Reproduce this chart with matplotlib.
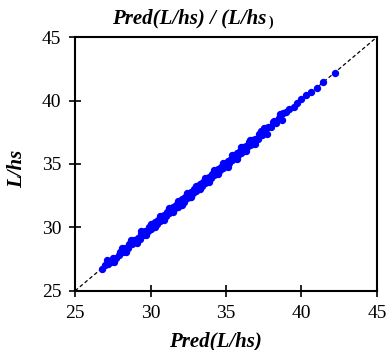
import matplotlib.pyplot as plt

# predicted vs. measured L/hs
pred = [26.8, 27.0, 27.2, 27.4, 27.5, 27.7, 27.9, 28.0, 28.2, 28.3, 28.5, 28.6,
        28.8, 28.9, 29.0, 29.2, 29.3, 29.4, 29.5, 29.6, 29.8, 29.9, 30.0, 30.1,
        30.2, 30.3, 30.4, 30.5, 30.6, 30.7, 30.8, 30.9, 31.0, 31.1, 31.2, 31.3,
        31.4, 31.5, 31.6, 31.7, 31.8, 31.9, 32.0, 32.1, 32.2, 32.3, 32.4, 32.5,
        32.6, 32.7, 32.8, 32.9, 33.0, 33.1, 33.2, 33.3, 33.4, 33.5, 33.6, 33.7,
        33.8, 33.9, 34.0, 34.1, 34.2, 34.3, 34.4, 34.5, 34.6, 34.7, 34.8, 34.9,
        35.0, 35.1, 35.2, 35.3, 35.4, 35.5, 35.6, 35.7, 35.8, 35.9, 36.0, 36.1,
        36.2, 36.3, 36.4, 36.5, 36.6, 36.7, 36.8, 36.9, 37.1, 37.2, 37.4, 37.5,
        37.6, 37.8, 38.0, 38.1, 38.3, 38.5, 38.7, 38.8, 39.0, 39.2, 39.5, 39.7,
        40.0, 40.3, 40.6, 41.0, 41.4, 42.2,
        27.1, 27.6, 28.1, 28.4, 28.7, 29.1, 29.4, 29.7, 30.0, 30.3, 30.6, 30.9,
        31.2, 31.5, 31.8, 32.1, 32.4, 32.7, 33.0, 33.3, 33.6, 33.9, 34.2, 34.5,
        34.8, 35.1, 35.4, 35.7, 36.0, 36.3, 36.6, 36.9, 37.3, 37.7, 38.2, 38.6]
meas = [26.7, 27.0, 27.1, 27.3, 27.6, 27.6, 27.8, 28.1, 28.1, 28.4, 28.4, 28.7,
        28.7, 29.0, 28.9, 29.2, 29.1, 29.5, 29.4, 29.7, 29.7, 30.0, 29.9, 30.2,
        30.1, 30.4, 30.3, 30.6, 30.5, 30.8, 30.7, 31.0, 30.9, 31.2, 31.1, 31.4,
        31.3, 31.6, 31.5, 31.8, 31.6, 32.0, 31.9, 32.2, 32.0, 32.4, 32.3, 32.6,
        32.4, 32.8, 32.7, 33.0, 32.9, 33.2, 33.1, 33.4, 33.3, 33.6, 33.5, 33.8,
        33.7, 34.0, 33.9, 34.2, 34.1, 34.4, 34.3, 34.6, 34.5, 34.8, 34.7, 35.0,
        34.9, 35.2, 35.1, 35.4, 35.3, 35.6, 35.5, 35.9, 35.7, 36.0, 35.9, 36.3,
        36.0, 36.4, 36.3, 36.7, 36.5, 36.9, 36.6, 37.0, 37.0, 37.4, 37.3, 37.8,
        37.5, 37.9, 37.9, 38.3, 38.2, 38.6, 38.5, 39.0, 39.1, 39.3, 39.5, 39.8,
        40.1, 40.4, 40.7, 41.0, 41.5, 42.2,
        27.4, 27.3, 28.4, 28.1, 29.0, 28.8, 29.7, 29.4, 30.3, 30.0, 30.9, 30.6,
        31.5, 31.2, 32.1, 31.8, 32.7, 32.4, 33.3, 33.0, 33.9, 33.6, 34.5, 34.2,
        35.1, 34.8, 35.7, 35.4, 36.3, 36.0, 36.9, 36.6, 37.6, 37.4, 38.4, 38.9]

lims = [25, 45]
ticks = [25, 30, 35, 40, 45]

plt.rcParams['font.family'] = ['Liberation Serif', 'DejaVu Serif']

fig = plt.figure(figsize=(3.87, 3.5), dpi=100)
ax = fig.add_axes([0.194, 0.169, 0.780, 0.725])

ax.plot(lims, lims, color='black', linestyle='--', linewidth=0.9, dashes=(3, 2))
ax.plot(pred, meas, 'o', color='#0000ff', markersize=5.3, markeredgewidth=0)

ax.set_xlim(lims)
ax.set_ylim(lims)
ax.set_xticks(ticks)
ax.set_yticks(ticks)
ax.tick_params(direction='inout', length=8, width=1.2, labelsize=14, pad=6)
for s in ax.spines.values():
    s.set_linewidth(1.5)

ax.set_xlabel('Pred(L/hs)', fontsize=15, fontweight='bold', fontstyle='italic')
ax.xaxis.set_label_coords(0.465, -0.16)
ax.set_ylabel('L/hs', fontsize=15, fontweight='bold', fontstyle='italic')
ax.yaxis.set_label_coords(-0.16, 0.48)

fig.text(0.290, 0.918, 'Pred(L/hs) / (L/hs', fontsize=15, fontweight='bold',
         fontstyle='italic', ha='left', va='bottom')
fig.text(0.693, 0.918, ')', fontsize=10, fontweight='bold', ha='left', va='bottom')

fig.savefig('out.png', dpi=100)
